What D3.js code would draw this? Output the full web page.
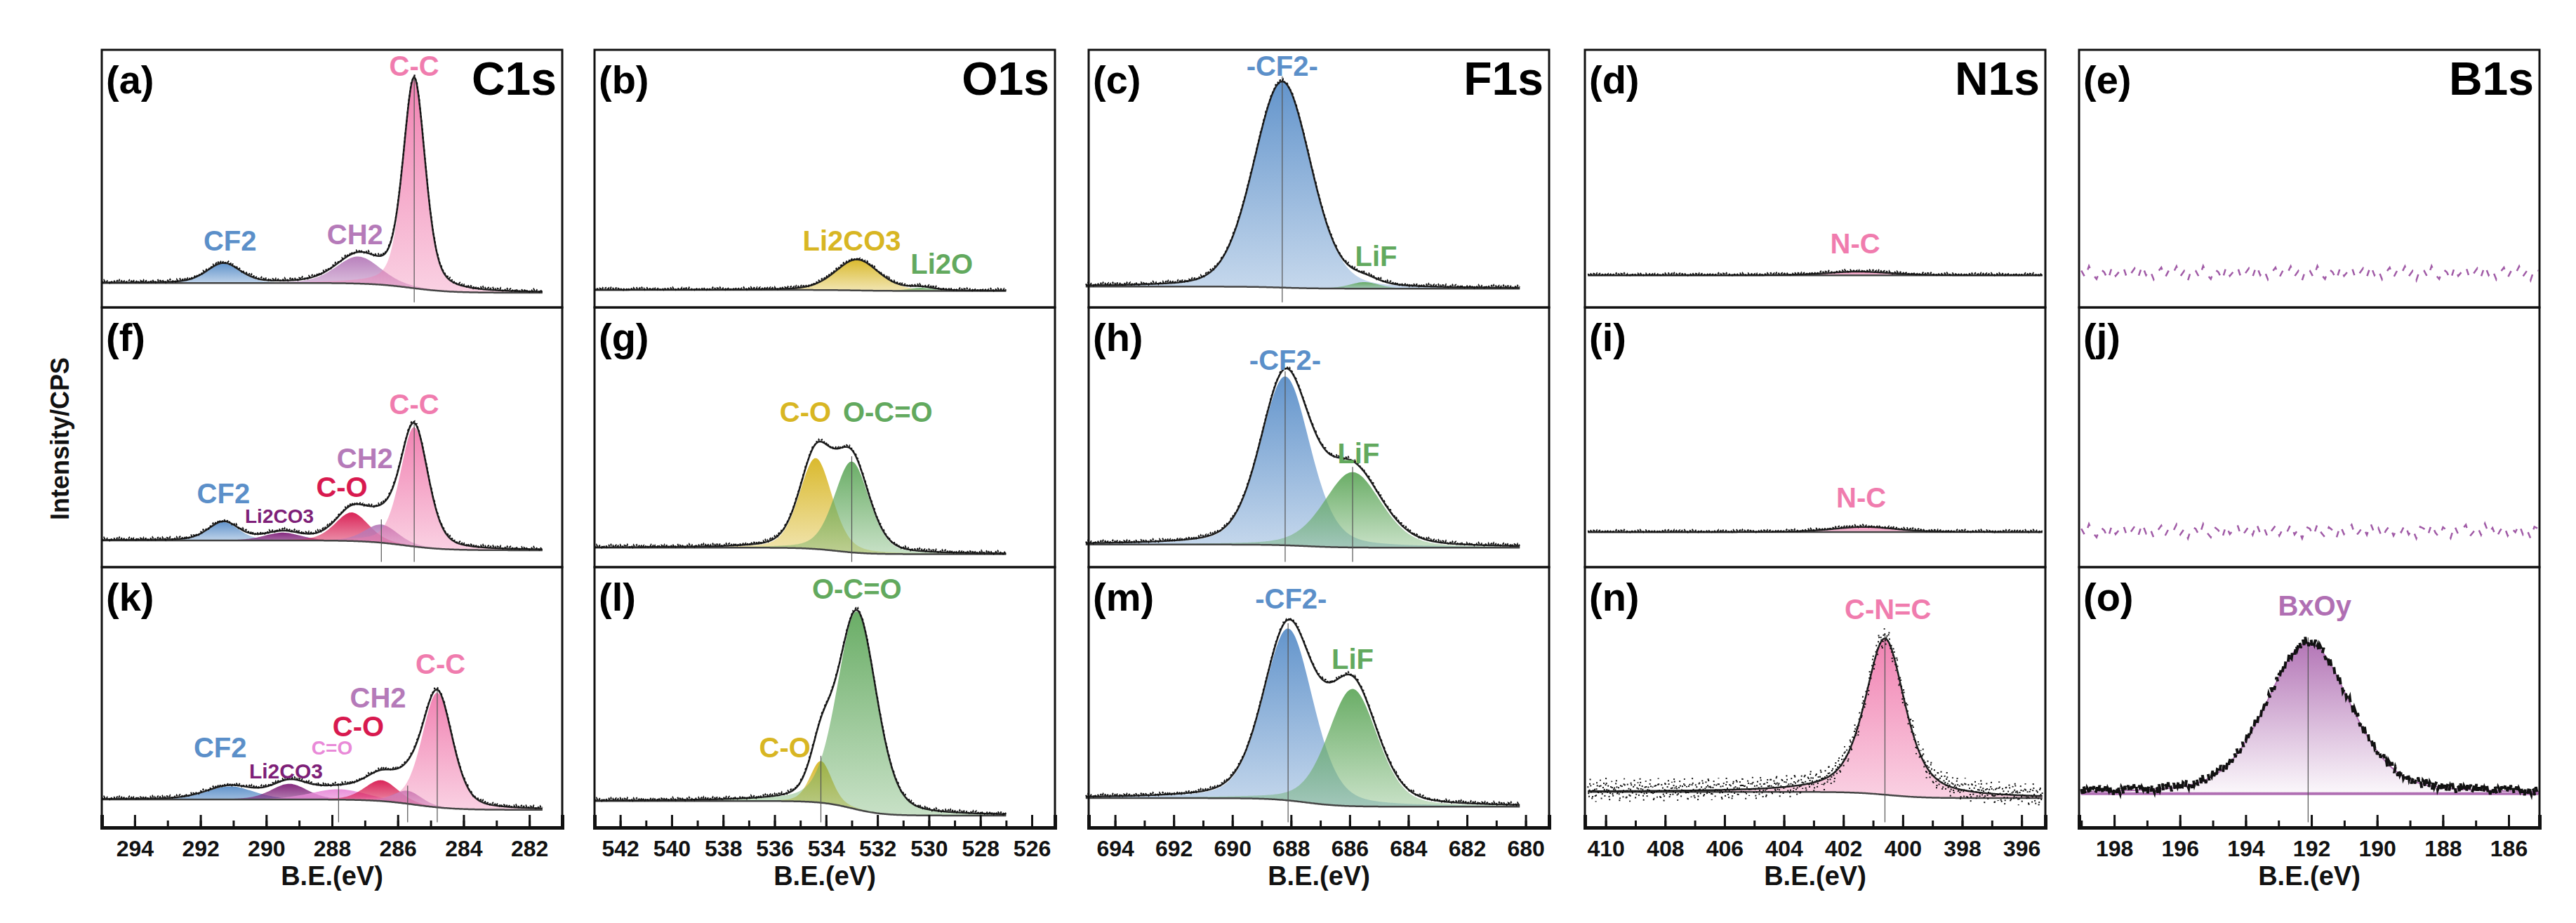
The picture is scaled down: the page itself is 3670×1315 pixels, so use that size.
<!DOCTYPE html>
<html><head><meta charset="utf-8">
<script src="https://cdn.jsdelivr.net/npm/d3@7"></script>
<style>
body{margin:0;background:#fff;}
text{font-family:"Liberation Sans Narrow","Arial Narrow","Liberation Sans",Arial,sans-serif;font-weight:bold;}
</style></head>
<body><svg id="chart" width="3670" height="1315"></svg>
<script>
const W = 3670, H = 1315;

// columns: element, x domain (eV, high to low), tick range
const elements = ["C1s", "O1s", "F1s", "N1s", "B1s"];
const xDomains = [[295, 281], [543, 525.1], [694.9, 679.2], [410.7, 395.2], [199.07, 185.06]];
const tickRanges = [[282, 294], [526, 542], [680, 694], [396, 410], [186, 198]];
const dataRanges = [[295, 281.6], [543, 527], [695, 680.2], [410.6, 395.3], [199, 185.1]];
const letters = ["a","b","c","d","e","f","g","h","i","j","k","l","m","n","o"];

// colours
const cCC = "#f07cae", cCF2 = "#5b8fc9", cCH2 = "#b57ab9", cLiCO = "#7e1f78",
      cCO = "#d8194f", cC_O = "#e98ad8", cY = "#d8b623", cG = "#62a95e", cB = "#b06fb3";

// components per panel: [label, centre eV, height, fwhm, colour, lorentz mix]
const compA = [["CF2",291.3,0.075,1.2,cCF2,0.3],["CH2",287.2,0.105,1.6,cCH2,0.3],["C-C",285.5,0.81,0.8,cCC,0.4]];
const compB = [["Li2CO3",532.8,0.12,2.0,cY,0.3],["Li2O",530.3,0.012,1.2,cG,0.3]];
const compC = [["-CF2-",688.3,0.80,2.3,cCF2,0.2],["LiF",685.5,0.025,1.2,cG,0.3]];
const compD = [["N-C",401.5,0.014,2.5,cCC,0.3]];
const compE = [];
const compF = [["CF2",291.3,0.07,1.1,cCF2,0.3],["Li2CO3",289.5,0.03,1.3,cLiCO,0.3],["C-O",287.4,0.11,1.2,cCO,0.3],["CH2",286.5,0.07,1.2,cCH2,0.3],["C-C",285.5,0.46,1.0,cCC,0.35]];
const compG = [["C-O",534.4,0.35,1.5,cY,0.3],["O-C=O",533.0,0.35,1.6,cG,0.3]];
const compH = [["-CF2-",688.2,0.65,2.0,cCF2,0.3],["LiF",685.9,0.29,2.3,cG,0.3]];
const compI = [["N-C",401.3,0.02,2.5,cCC,0.3]];
const compJ = [];
const compK = [["CF2",291.1,0.05,1.7,cCF2,0.3],["Li2CO3",289.3,0.06,1.3,cLiCO,0.3],["C=O",287.8,0.04,2.0,cC_O,0.3],["C-O",286.5,0.08,1.2,cCO,0.3],["CH2",285.7,0.05,1.0,cCH2,0.3],["C-C",284.8,0.44,1.1,cCC,0.35]];
const compL = [["C-O",534.2,0.16,1.0,cY,0.3],["O-C=O",532.8,0.76,1.8,cG,0.3]];
const compM = [["-CF2-",688.1,0.66,2.0,cCF2,0.3],["LiF",685.9,0.45,2.0,cG,0.3]];
const compN = [["C-N=C",400.6,0.60,1.6,cCC,0.6]];
const compO = [["BxOy",192.1,0.58,3.0,cB,0.3]];
const components = [compA,compB,compC,compD,compE,compF,compG,compH,compI,compJ,compK,compL,compM,compN,compO];

// background: [left level, right level, step centre eV]
const backgrounds = [[0.095,0.057,285.6],[0.068,0.064,532.8],[0.081,0.073,688.3],[0.125,0.125,401.5],[0.13,0.13,192],
  [0.103,0.065,285.8],[0.075,0.05,533.6],[0.087,0.075,687.5],[0.135,0.135,401.3],[0.135,0.135,192],
  [0.108,0.068,285.5],[0.102,0.046,533],[0.113,0.08,687.5],[0.137,0.113,400.5],[0.13,0.13,192]];

// labels: [text, x eV, y fraction, colour, font size]
const labelsP = [
  [["C-C",285.5,0.9,cCC,40],["CF2",291.1,0.22,cCF2,40],["CH2",287.3,0.245,cCH2,40]],
  [["Li2CO3",533.0,0.22,cY,40],["Li2O",529.5,0.13,cG,40]],
  [["-CF2-",688.3,0.9,cCF2,40],["LiF",685.1,0.16,cG,40]],
  [["N-C",401.6,0.21,cCC,40]],
  [],
  [["C-C",285.5,0.59,cCC,40],["CH2",287.0,0.38,cCH2,40],["C-O",287.7,0.27,cCO,40],["CF2",291.3,0.245,cCF2,40],["Li2CO3",289.6,0.17,cLiCO,28]],
  [["C-O",534.8,0.56,cY,40],["O-C=O",531.6,0.56,cG,40]],
  [["-CF2-",688.2,0.76,cCF2,40],["LiF",685.7,0.40,cG,40]],
  [["N-C",401.4,0.23,cCC,40]],
  [],
  [["C-C",284.7,0.59,cCC,40],["CH2",286.6,0.46,cCH2,40],["C-O",287.2,0.35,cCO,40],["C=O",288.0,0.28,cC_O,28],["CF2",291.4,0.27,cCF2,40],["Li2CO3",289.4,0.19,cLiCO,30]],
  [["O-C=O",532.8,0.88,cG,40],["C-O",535.6,0.27,cY,40]],
  [["-CF2-",688.0,0.84,cCF2,40],["LiF",685.9,0.61,cG,40]],
  [["C-N=C",400.5,0.80,cCC,40]],
  [["BxOy",191.9,0.815,cB,40]]
];
// indices of components that get a thin centre line
const markLines = [[2],[],[0],[],[],[3,4],[1],[0,1],[],[],[2,4,5],[0],[0],[0],[0]];
// hand-read scatter of the measured points about the fit (cycled along the trace)
const noise = [0.3,-0.6,0.9,-0.2,-0.8,0.5,0.1,-0.9,0.7,-0.4,0.2,0.8,-0.7,-0.1,0.6,-0.5,0.95,-0.3,0.4,-0.85,0.05,0.7,-0.6,0.35,-0.15,0.85,-0.45,0.25,-0.95,0.55];
const noiseAmp = [0.006,0.005,0.006,0.005,0.03,0.006,0.006,0.006,0.005,0.03,0.006,0.006,0.006,0.05,0.02];

const colLeft = [145, 847, 1551, 2258, 2962], colW = 656;
const rowTop = [71, 438, 808], rowH = [367, 370, 371];

const svg = d3.select("#chart");
const defs = svg.append("defs");

function pv(x, c) {
  const s = c[3] / 2, d = (x - c[1]) / s;
  const g = Math.exp(-Math.LN2 * d * d), l = 1 / (1 + d * d);
  return c[2] * ((1 - c[5]) * g + c[5] * l);
}
function bg(x, b) { return b[1] + (b[0] - b[1]) / (1 + Math.exp(-(x - b[2]) / 0.6)); }

for (let p = 0; p < 15; p++) {
  const col = p % 5, row = Math.floor(p / 5);
  const x0 = colLeft[col], y0 = rowTop[row], h = rowH[row];
  const x = d3.scaleLinear().domain(xDomains[col]).range([x0, x0 + colW]);
  const y = d3.scaleLinear().domain([0, 1]).range([y0 + h, y0]);
  const g = svg.append("g");
  const comps = components[p], b = backgrounds[p];
  const dr = dataRanges[col];
  const isB = col === 4 && p !== 14;
  const n = isB ? 120 : 400;
  const xs = d3.range(dr[0], dr[1], -(dr[0] - dr[1]) / n);
  xs.push(dr[1]);

  // component fills
  comps.forEach((c, i) => {
    const id = "gr" + p + "_" + i;
    const gr = defs.append("linearGradient").attr("id", id).attr("x1", 0).attr("y1", 0).attr("x2", 0).attr("y2", 1);
    gr.append("stop").attr("offset", "0%").attr("stop-color", c[4]).attr("stop-opacity", 0.95);
    gr.append("stop").attr("offset", "100%").attr("stop-color", c[4]).attr("stop-opacity", p === 14 ? 0.05 : 0.35);
    const cx = xs.filter(v => Math.abs(v - c[1]) < c[3] * 4);
    const area = d3.area().x(v => x(v)).y0(v => y(bg(v, b))).y1(v => y(bg(v, b) + pv(v, c)));
    g.append("path").datum(cx).attr("d", area).attr("fill", `url(#${id})`)
      .attr("stroke", p === 14 ? c[4] : "none").attr("stroke-width", 2);
  });

  // background line
  if (comps.length) {
    g.append("path").datum(xs).attr("d", d3.line().x(v => x(v)).y(v => y(bg(v, b))))
      .attr("fill", "none").attr("stroke", p === 14 ? cB : "#444").attr("stroke-width", p === 14 ? 4 : 2.5);
  }

  // centre lines
  markLines[p].forEach(i => {
    const c = comps[i];
    g.append("line").attr("x1", x(c[1])).attr("x2", x(c[1]))
      .attr("y1", y(0.02)).attr("y2", y(bg(c[1], b) + c[2] + 0.02))
      .attr("stroke", "#555").attr("stroke-width", 1.2);
  });

  // envelope
  const env = v => bg(v, b) + d3.sum(comps, c => pv(v, c));
  if (comps.length && p !== 14) {
    g.append("path").datum(xs).attr("d", d3.line().x(v => x(v)).y(v => y(env(v))))
      .attr("fill", "none").attr("stroke", "#222").attr("stroke-width", 2.5);
  }
  // measured points
  const amp = noiseAmp[p];
  g.append("path").datum(xs).attr("d", d3.line().x(v => x(v)).y((v, i) => y(env(v) + 0.004 + amp * noise[i % noise.length])))
    .attr("fill", "none")
    .attr("stroke", isB ? "#a05aa6" : "#111")
    .attr("stroke-width", p === 14 ? 4 : (isB ? 2.5 : 2))
    .attr("stroke-dasharray", isB ? "9,14" : (p === 13 ? "2,7" : (p === 14 ? "10,9" : "3,3")));

  // labels
  labelsP[p].forEach(l => {
    g.append("text").attr("x", x(l[1])).attr("y", y(l[2])).attr("text-anchor", "middle")
      .attr("fill", l[3]).attr("font-size", l[4]).text(l[0]);
  });

  // frame
  g.append("rect").attr("x", x0).attr("y", y0).attr("width", colW).attr("height", h)
    .attr("fill", "none").attr("stroke", "#111").attr("stroke-width", 3);
  g.append("text").attr("x", x0 + 6).attr("y", y0 + 62).attr("font-size", 56).attr("fill", "#000").text("(" + letters[p] + ")");
  if (row === 0) {
    g.append("text").attr("x", x0 + colW - 8).attr("y", y0 + 64).attr("text-anchor", "end")
      .attr("font-size", 66).attr("fill", "#000").text(elements[col]);
  }

  // bottom axis
  if (row === 2) {
    const tr = tickRanges[col];
    const major = d3.range(tr[0], tr[1] + 0.1, 2);
    const minor = d3.range(tr[0] - 1, tr[1] + 1.1, 1).filter(v => v > xDomains[col][1] && v < xDomains[col][0]);
    const ax = svg.append("g").attr("transform", `translate(0,${y0 + h})`);
    ax.call(d3.axisBottom(x).tickValues(minor).tickSize(-10).tickFormat(""));
    ax.call(g2 => g2.append("g").call(d3.axisBottom(x).tickValues(major).tickSize(-18).tickPadding(18).tickFormat(d3.format("d"))));
    ax.selectAll(".domain").attr("stroke-width", 5).attr("stroke", "#111");
    ax.selectAll(".tick line").attr("stroke-width", 3).attr("stroke", "#111");
    ax.selectAll(".tick text").attr("font-size", 32).attr("fill", "#111")
      .attr("font-family", "'Liberation Sans Narrow','Liberation Sans',Arial,sans-serif").attr("font-weight", "bold");
    svg.append("text").attr("x", x0 + colW / 2).attr("y", y0 + h + 82).attr("text-anchor", "middle")
      .attr("font-size", 38).attr("fill", "#111").text("B.E.(eV)");
  }
}

svg.append("text").attr("transform", "translate(98,625) rotate(-90)").attr("text-anchor", "middle")
  .attr("font-size", 36).attr("fill", "#111")
  .style("font-family", "'Liberation Sans',Arial,sans-serif").text("Intensity/CPS");
</script></body></html>
